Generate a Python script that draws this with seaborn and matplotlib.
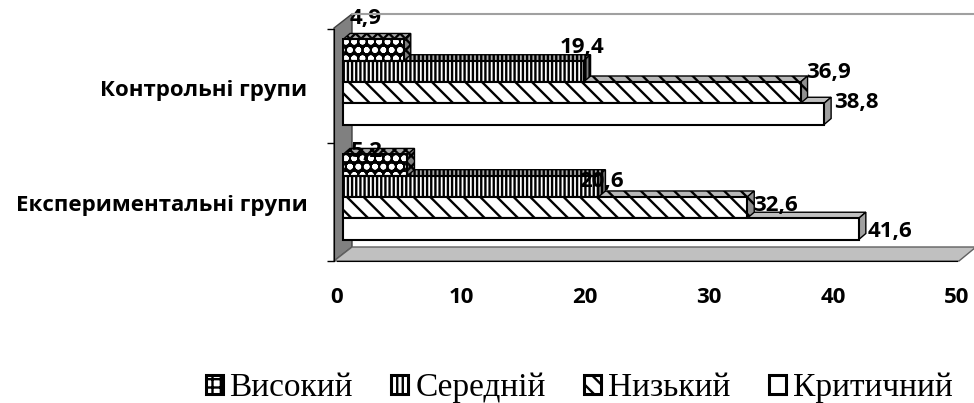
import matplotlib
matplotlib.use('Agg')
import numpy as np
import pandas as pd
import matplotlib.pyplot as plt
import seaborn as sns
from matplotlib.patches import Polygon, Patch, Rectangle
from matplotlib.lines import Line2D
from matplotlib.transforms import ScaledTranslation, IdentityTransform

# дані з діаграми
groups = ['Контрольні групи', 'Експериментальні групи']
levels = ['Високий', 'Середній', 'Низький', 'Критичний']
control = [4.9, 19.4, 36.9, 38.8]
experimental = [5.2, 20.6, 32.6, 41.6]
x_ticks = [0, 10, 20, 30, 40, 50]

# стилі рівнів
hatches = ['oo', '||||', '\\\\', '']
top_hatches = ['xxx', '||||', '\\\\', '']
top_colors = ['#a8a8a8', '#a8a8a8', '#b8b8b8', '#c0c0c0']
side_colors = ['#808080', '#808080', '#909090', '#a0a0a0']

sns.set_style('white')
plt.rcParams['hatch.linewidth'] = 1.7
plt.rcParams['text.color'] = 'black'
plt.rcParams['xtick.color'] = 'black'
plt.rcParams['ytick.color'] = 'black'

W, H = 974, 403
fig = plt.figure(figsize=(9.74, 4.03), dpi=100)


def fx(px):
    return px / W


def fy(py):
    return 1 - py / H


ax = fig.add_axes([fx(337), fy(261), (957 - 337) / W, (261 - 29) / H])
ax.patch.set_alpha(0)

df = pd.DataFrame({
    'group': np.repeat(groups, len(levels)),
    'level': levels * len(groups),
    'value': control + experimental,
})

sns.barplot(data=df, y='group', x='value', hue='level', hue_order=levels,
            orient='h', width=0.74, palette=['white'] * 4, saturation=1,
            edgecolor='black', linewidth=1.5, legend=False, ax=ax)

ax.set_xlim(0, 50)
ax.set_ylim(1.557, -0.461)

# 3D: зсув передніх граней, верх і бік
shift = ScaledTranslation(6 / 100, 0, fig.dpi_scale_trans)
ddx, ddy = 7, 6
for i, cont in enumerate(ax.containers):
    for bar in cont:
        bar.set_hatch(hatches[i])
        bar.set_transform(ax.transData + shift)
        bar.set_zorder(3)
        bar.set_clip_on(False)
        if i == 0:
            # чорне тло з білими плямами + чорний контур поверх
            bar.set_facecolor('black')
            bar.set_edgecolor('white')
            ax.add_patch(Rectangle(bar.get_xy(), bar.get_width(), bar.get_height(),
                                   fill=False, edgecolor='black', linewidth=1.5,
                                   transform=ax.transData + shift, zorder=3.1, clip_on=False))
        bb = bar.get_window_extent()
        x0, y0, x1, y1 = bb.x0, bb.y0, bb.x1, bb.y1
        top = Polygon([(x0, y1), (x1, y1), (x1 + ddx, y1 + ddy), (x0 + ddx, y1 + ddy)],
                      closed=True, facecolor=top_colors[i], edgecolor='black',
                      hatch=top_hatches[i], linewidth=1.0, transform=IdentityTransform(),
                      zorder=1.5, clip_on=False)
        side = Polygon([(x1, y0), (x1 + ddx, y0 + ddy), (x1 + ddx, y1 + ddy), (x1, y1)],
                       closed=True, facecolor=side_colors[i], edgecolor='black',
                       hatch=top_hatches[i], linewidth=1.0, transform=IdentityTransform(),
                       zorder=2, clip_on=False)
        ax.add_patch(top)
        ax.add_patch(side)

# підписи значень (зсуви в пікселях, як у Excel 3D)
label_offsets = [[(-38, -32), (-1, -24), (28, -20), (32, -11)],
                 [(-41, -14), (3, -5), (28, -2), (31, 3)]]
for i, cont in enumerate(ax.containers):
    for j, bar in enumerate(cont):
        v = bar.get_width()
        yc = bar.get_y() + bar.get_height() / 2
        dx, dy = label_offsets[j][i]
        ax.annotate(f'{v:.1f}'.replace('.', ','), xy=(v, yc),
                    xytext=((dx + 6) * 0.72, -dy * 0.72), textcoords='offset points',
                    ha='center', va='center', fontsize=16, fontweight='bold',
                    family='Open Sans', color='black', zorder=5, annotation_clip=False)

# стіни та підлога
wall = Polygon([(fx(334), fy(261)), (fx(334), fy(28)), (fx(352), fy(14)), (fx(352), fy(247))],
               closed=True, facecolor='#808080', edgecolor='#404040', linewidth=1,
               transform=fig.transFigure, zorder=0)
floor = Polygon([(fx(334), fy(261)), (fx(959), fy(261)), (fx(976), fy(247)), (fx(352), fy(247))],
                closed=True, facecolor='#c0c0c0', edgecolor='#606060', linewidth=1,
                transform=fig.transFigure, zorder=0)
fig.add_artist(wall)
fig.add_artist(floor)
fig.add_artist(Line2D([fx(352), fx(974)], [fy(14), fy(14)], color='#a0a0a0',
                      linewidth=1.5, transform=fig.transFigure))

# осі
sns.despine(ax=ax, top=True, right=True)
ax.spines['left'].set_position(('outward', 2.2))
ax.spines['left'].set_color('black')
ax.spines['bottom'].set_color('black')
ax.set_xticks(x_ticks)
ax.set_xticklabels([str(t) for t in x_ticks], fontsize=16, fontweight='bold', family='Open Sans')
ax.tick_params(axis='x', direction='out', length=5, width=1, pad=14, color='black')
ax.set_yticks([0, 1])
ax.set_yticklabels(groups, fontsize=16, fontweight='bold', family='Open Sans')
ax.set_yticks([-0.461, 0.53, 1.557], minor=True)
ax.tick_params(axis='y', which='major', length=0, pad=19)
ax.tick_params(axis='y', which='minor', direction='out', length=5, width=1, color='black', left=True)
for lab in ax.get_yticklabels():
    lab.set_transform(lab.get_transform() + ScaledTranslation(0, -6 / 100, fig.dpi_scale_trans))
ax.set_xlabel('')
ax.set_ylabel('')

handles = [Patch(facecolor='white', edgecolor='black', hatch=h, linewidth=2.2)
           for h in ['++', '|||', '\\\\', '']]
fig.legend(handles, levels, loc='center', bbox_to_anchor=(fx(579), fy(388)), ncol=4,
           frameon=False, prop={'family': 'Liberation Serif', 'size': 24},
           handlelength=0.51, handleheight=0.51, handletextpad=0.21, columnspacing=1.15)

fig.savefig('out.png', dpi=100)
